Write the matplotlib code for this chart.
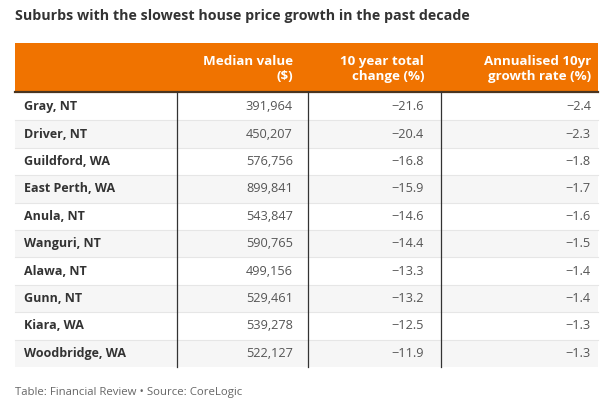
import matplotlib.pyplot as plt
from matplotlib.patches import Rectangle

# table data
suburbs = ["Gray, NT", "Driver, NT", "Guildford, WA", "East Perth, WA", "Anula, NT",
           "Wanguri, NT", "Alawa, NT", "Gunn, NT", "Kiara, WA", "Woodbridge, WA"]
median_value = [391964, 450207, 576756, 899841, 543847, 590765, 499156, 529461, 539278, 522127]
total_change = [-21.6, -20.4, -16.8, -15.9, -14.6, -14.4, -13.3, -13.2, -12.5, -11.9]
annual_rate = [-2.4, -2.3, -1.8, -1.7, -1.6, -1.5, -1.4, -1.4, -1.3, -1.3]
headers = ["Median value\n($)", "10 year total\nchange (%)", "Annualised 10yr\ngrowth rate (%)"]

title = "Suburbs with the slowest house price growth in the past decade"
note = "Table: Financial Review \u2022 Source: CoreLogic"

plt.rcParams['font.family'] = ['Open Sans', 'DejaVu Sans']

W, H = 614, 404
fig = plt.figure(figsize=(W / 100, H / 100), dpi=100)
ax = fig.add_axes([0, 0, 1, 1])
ax.set_xlim(0, W)
ax.set_ylim(H, 0)
ax.axis('off')

orange = '#f07300'
col_edges = [15, 177, 308, 441, 598]
text_right = [293, 424, 591]
head_top, head_bot = 43, 92
row_h = 27.4

fig.text(15 / W, 1 - 16 / H, title, fontsize=10.3, fontweight='bold', color='#333333',
         va='center', ha='left')

# header
ax.add_patch(Rectangle((col_edges[0], head_top), col_edges[-1] - col_edges[0],
                       head_bot - head_top, color=orange, lw=0))
ax.plot([col_edges[0], col_edges[-1]], [head_bot, head_bot], color='#4a3520', lw=1.6)
for i, h in enumerate(headers):
    ax.text(text_right[i], (head_top + head_bot) / 2 + 1.5, h, color='white',
            fontsize=9.6, fontweight='bold', ha='right', va='center', linespacing=1.2)

# body rows
def fmt(v):
    return f"{v:.1f}".replace('-', '\u2212')

for r, name in enumerate(suburbs):
    y0 = head_bot + 1 + r * row_h
    if r % 2 == 1:
        ax.add_patch(Rectangle((col_edges[0], y0), col_edges[-1] - col_edges[0], row_h,
                               color='#f6f6f6', lw=0))
    if r > 0:
        ax.plot([col_edges[0], col_edges[-1]], [y0, y0], color='#e6e6e6', lw=0.8)
    yc = y0 + row_h / 2
    ax.text(col_edges[0] + 9, yc, name, fontsize=9, fontweight='bold', color='#333333',
            ha='left', va='center')
    vals = [f"{median_value[r]:,}", fmt(total_change[r]), fmt(annual_rate[r])]
    for c, v in enumerate(vals):
        ax.text(text_right[c], yc, v, fontsize=9.2, color='#555555',
                ha='right', va='center')

bottom = head_bot + 1 + len(suburbs) * row_h
for x in col_edges[1:-1]:
    ax.plot([x, x], [head_bot, bottom], color='#333333', lw=0.9)

fig.text(15 / W, 1 - 392 / H, note, fontsize=8.2, color='#666666', va='center', ha='left')

fig.savefig('out.png', dpi=100)
